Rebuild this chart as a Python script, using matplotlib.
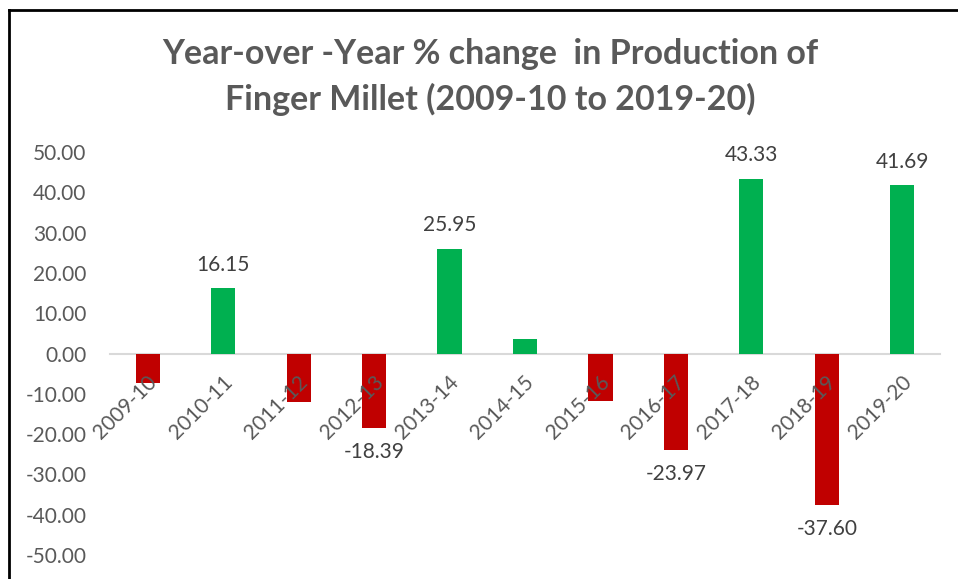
import matplotlib
matplotlib.use("Agg")
import matplotlib.pyplot as plt
from matplotlib.lines import Line2D

categories = ["2009-10", "2010-11", "2011-12", "2012-13", "2013-14", "2014-15",
              "2015-16", "2016-17", "2017-18", "2018-19", "2019-20"]
values = [-7.4, 16.15, -12.1, -18.39, 25.95, 3.7, -11.7, -23.97, 43.33, -37.60, 41.69]
labeled = [False, True, False, True, True, False, False, True, True, True, True]
yticks = [-50, -40, -30, -20, -10, 0, 10, 20, 30, 40, 50]
title = "Year-over -Year % change  in Production of\nFinger Millet (2009-10 to 2019-20)"

plt.rcParams['font.family'] = ['Lato', 'DejaVu Sans']

W, H = 958, 579
PX = 72 / 100  # points per pixel at dpi 100
fig = plt.figure(figsize=(W / 100, H / 100), dpi=100)
ax = fig.add_axes([110 / W, 1 - 555 / H, 830 / W, (555 - 152) / H])

colors = ["#00B050" if v >= 0 else "#C00000" for v in values]
x = list(range(len(categories)))
ax.bar(x, values, width=0.32, color=colors, zorder=1)

for s in ['top', 'right', 'left']:
    ax.spines[s].set_visible(False)
ax.spines['bottom'].set_position(('data', 0))
ax.spines['bottom'].set_color("#D9D9D9")
ax.spines['bottom'].set_linewidth(1.5)
ax.spines['bottom'].set_zorder(0.5)

ax.set_xlim(-0.5, len(categories) - 0.5)
ax.set_ylim(-50, 50)
ax.set_yticks(yticks)
ax.set_yticklabels([f"{t:.2f}" for t in yticks], fontsize=15, color="#595959")
ax.tick_params(axis='y', length=0, pad=17)
ax.set_xticks(x)
ax.set_xticklabels([])
ax.tick_params(axis='x', length=0)
ax.yaxis.set_zorder(5)

# category labels, rotated, hanging just below the zero line
for xi, cat in zip(x, categories):
    ax.annotate(cat, (xi, 0), xytext=(-1 * PX, -18 * PX), textcoords='offset points',
                rotation=45, ha='right', va='top', rotation_mode='anchor',
                fontsize=15, color="#595959", zorder=6, annotation_clip=False)

for xi, v, lab in zip(x, values, labeled):
    if not lab:
        continue
    if v >= 0:
        ax.annotate(f"{v:.2f}", (xi, v), xytext=(0, 10), textcoords='offset points',
                    ha='center', va='bottom', fontsize=15, color="#404040")
    else:
        ax.annotate(f"{v:.2f}", (xi, v), xytext=(0, -10), textcoords='offset points',
                    ha='center', va='top', fontsize=15, color="#404040")

fig.text(490 / W, 1 - 77 / H, title, ha='center', va='center', fontsize=24.5,
         fontweight='bold', color="#595959", linespacing=1.45)

# chart border (left and top edges)
fig.add_artist(Line2D([8.5 / W, 8.5 / W], [0, 1 - 9.5 / H], color='black', lw=2,
                      transform=fig.transFigure))
fig.add_artist(Line2D([8.5 / W, 1], [1 - 9.5 / H, 1 - 9.5 / H], color='black', lw=2,
                      transform=fig.transFigure))

fig.savefig("out.png", dpi=100)
